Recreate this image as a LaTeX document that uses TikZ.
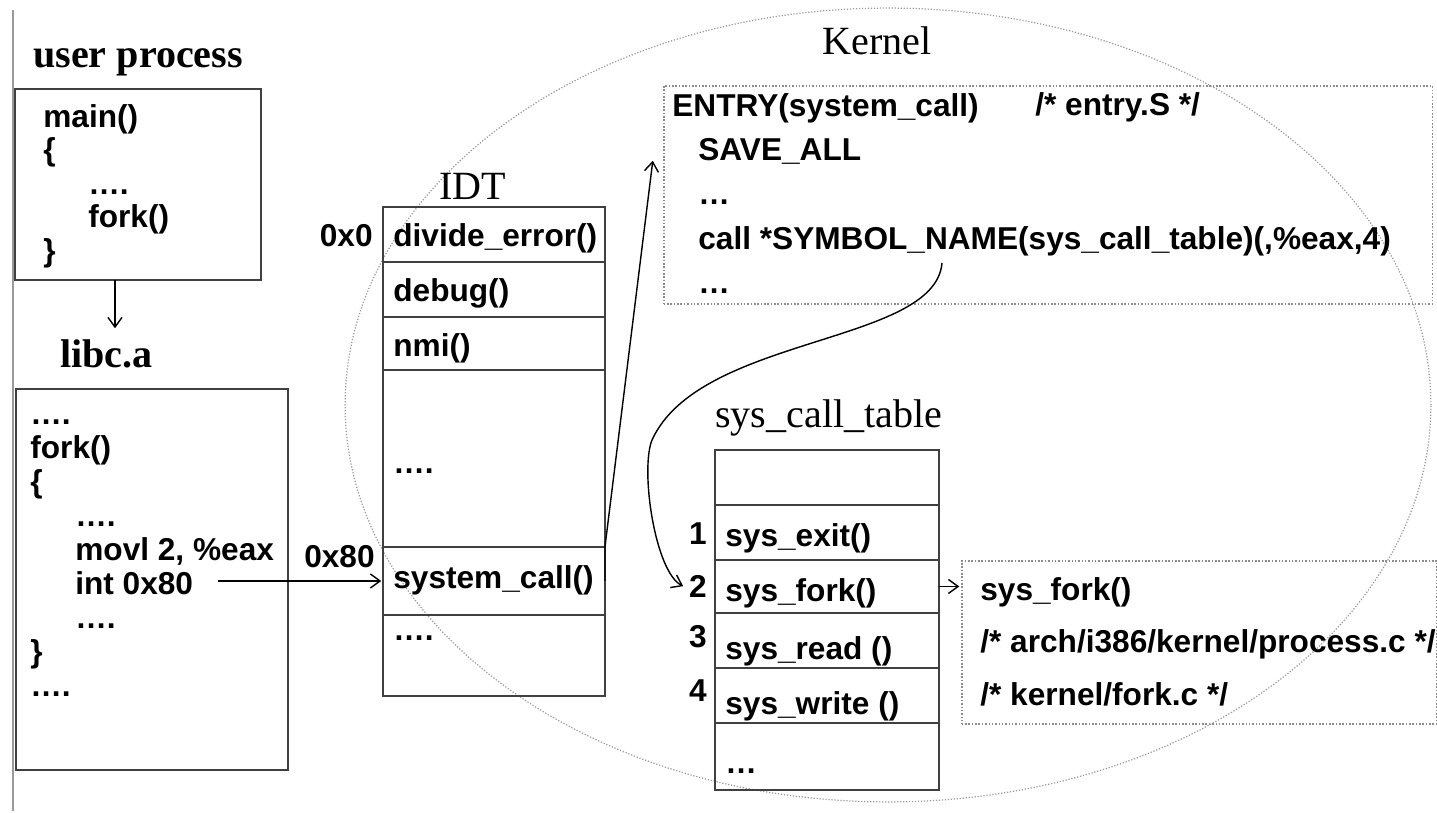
\documentclass[tikz,border=0pt]{standalone}
\usepackage{fontspec}
\setmainfont{Liberation Serif}
\setsansfont{Liberation Sans}
\usetikzlibrary{positioning, arrows, arrows.meta, shapes.geometric}

\newcommand{\codefont}[1]{\sffamily\bfseries\fontsize{18}{#1}\selectfont}
\newcommand{\tagfont}{\rmfamily\fontsize{22.8}{27}\selectfont}

\begin{document}
\begin{tikzpicture}[x=0.02cm, y=-0.02cm, shorten >=1pt, node distance=0pt,
    >={Straight Barb[length=5.5pt,width=8pt]},
    code/.style={font=\codefont{20pt}, inner sep=0pt, align=left, anchor=north west},
    lbl/.style={font=\tagfont, inner sep=0pt, anchor=base west},
    num/.style={font=\codefont{20pt}, inner sep=0pt, anchor=base east},
    box/.style={draw=black!75, line width=1.1pt, inner sep=0pt, outer sep=0pt, anchor=north west},
    idtcell/.style={box, minimum width=4.44cm},
    sctcell/.style={box, minimum width=4.48cm},
    src/.style={draw=black!45, densely dotted, line width=0.9pt, inner sep=0pt, anchor=north west},
    link/.style={->, line width=0.8pt}]
    \useasboundingbox (0,0) rectangle (1437,813);

    % kernel space
    \node[ellipse, draw=black!40, densely dotted, line width=0.7pt, minimum width=21.72cm, minimum height=15.88cm, inner sep=0pt] (kernel) at (888,405) {};
    \node[lbl, anchor=base] (kernlbl) at (877,55) {Kernel};
    \draw[black!40, line width=0.85pt] (13,10) -- (13,813);

    % user side
    \node[lbl, font=\tagfont\bfseries] (userlbl) at (33,68) {user process};
    \node[box, minimum width=4.92cm, minimum height=3.82cm] (ubox) at (15,89) {};
    \node[code, font=\codefont{19.06pt}] (utext) at (43,103.5) {\strut main()\\ \{\\ \hspace*{25.6pt}….\\ \hspace*{25.6pt}fork()\\ \}};

    \node[lbl, font=\tagfont\bfseries] (libclbl) at (60,368) {libc.a};
    \node[box, minimum width=5.44cm, minimum height=7.62cm] (lbox) at (16,389) {};
    \node[code, font=\codefont{19.4pt}] (ltext) at (30,400) {\strut ….\\ fork()\\ \{\\ \hspace*{25.6pt}….\\ \hspace*{25.6pt}movl 2, \%eax\\ \hspace*{25.6pt}int 0x80\\ \hspace*{25.6pt}….\\ \}\\ ….};

    % IDT
    \node[lbl, anchor=base] (idtlbl) at (473,200) {IDT};
    \node[idtcell, minimum height=1.10cm] (idt0) at (383,207) {};
    \node[idtcell, minimum height=1.10cm] (idt1) [below=of idt0] {};
    \node[idtcell, minimum height=1.06cm] (idt2) [below=of idt1] {};
    \node[idtcell, minimum height=3.54cm] (idt3) [below=of idt2] {};
    \node[idtcell, minimum height=1.36cm] (idt4) [below=of idt3] {};
    \node[idtcell, minimum height=1.62cm] (idt5) [below=of idt4] {};
    \node[code, anchor=base west] (divide) at (393,247) {divide\_error()};
    \node[code, anchor=base west] (debug) at (393,302) {debug()};
    \node[code, anchor=base west] (nmi) at (393,357) {nmi()};
    \node[code, anchor=base west] (idtdots) at (393,474) {….};
    \node[code, anchor=base west] (syscall) at (393,589) {system\_call()};
    \node[code, anchor=base west] (idtmore) at (393,641) {….};
    \node[num] (hex0) at (373,247) {0x0};
    \node[num] (hex80) at (375,568) {0x80};

    % entry.S
    \node[src, minimum width=15.38cm, minimum height=4.36cm] (entry) at (663,85) {};
    \node[code, font=\codefont{25.2pt}] (entrytext) at (672,85) {\strut ENTRY(system\_call)\\ \hspace*{14.8pt}SAVE\_ALL\\ \hspace*{14.8pt}…\\ \hspace*{14.8pt}call *SYMBOL\_NAME(sys\_call\_table)(,\%eax,4)\\ \hspace*{14.8pt}…};
    \node[code, anchor=base west] (entrycmt) at (1035,116) {/* entry.S */};

    % sys_call_table
    \node[lbl] (sctlbl) at (715,428) {sys\_call\_table};
    \node[sctcell, minimum height=1.10cm] (sct0) at (715,450) {};
    \node[sctcell, minimum height=1.10cm] (sct1) [below=of sct0] {};
    \node[sctcell, minimum height=1.06cm] (sct2) [below=of sct1] {};
    \node[sctcell, minimum height=1.10cm] (sct3) [below=of sct2] {};
    \node[sctcell, minimum height=1.10cm] (sct4) [below=of sct3] {};
    \node[sctcell, minimum height=1.34cm] (sct5) [below=of sct4] {};
    \node[code, anchor=base west] (sexit) at (725,547) {sys\_exit()};
    \node[code, anchor=base west] (sfork) at (725,602) {sys\_fork()};
    \node[code, anchor=base west] (sread) at (725,660) {sys\_read ()};
    \node[code, anchor=base west] (swrite) at (725,715) {sys\_write ()};
    \node[code, anchor=base west] (sctmore) at (725,773) {…};
    \node[num] (n1) at (707,545) {1};
    \node[num] (n2) at (707,598) {2};
    \node[num] (n3) at (707,648) {3};
    \node[num] (n4) at (707,702) {4};

    % sys_fork source
    \node[src, minimum width=9.5cm, minimum height=3.26cm] (fbox) at (961,560) {};
    \node[code, font=\codefont{29.9pt}] (ftext) at (980,563) {\strut sys\_fork()\\ /* arch/i386/kernel/process.c */\\ /* kernel/fork.c */};

    % connectors
    \coordinate (libin) at (115,330);
    \coordinate (intout) at (218,581);
    \coordinate (entryin) at (653,159);
    \coordinate (callout) at (942,263);
    \draw[link] (ubox.south -| libin) -- (libin);
    \draw[link] (intout) -- (intout -| idt4.west);
    \draw[link] (idt4.east) -- (idt4.north east) -- (entryin);
    \draw[link] (callout) .. controls (935,345) and (700,335) .. (652,440)
        .. controls (640,470) and (655,572) .. ([xshift=-0.08cm]n2.west);
    \draw[link] (sct2.east) -- (fbox.west |- sct2.east);
\end{tikzpicture}
\end{document}
